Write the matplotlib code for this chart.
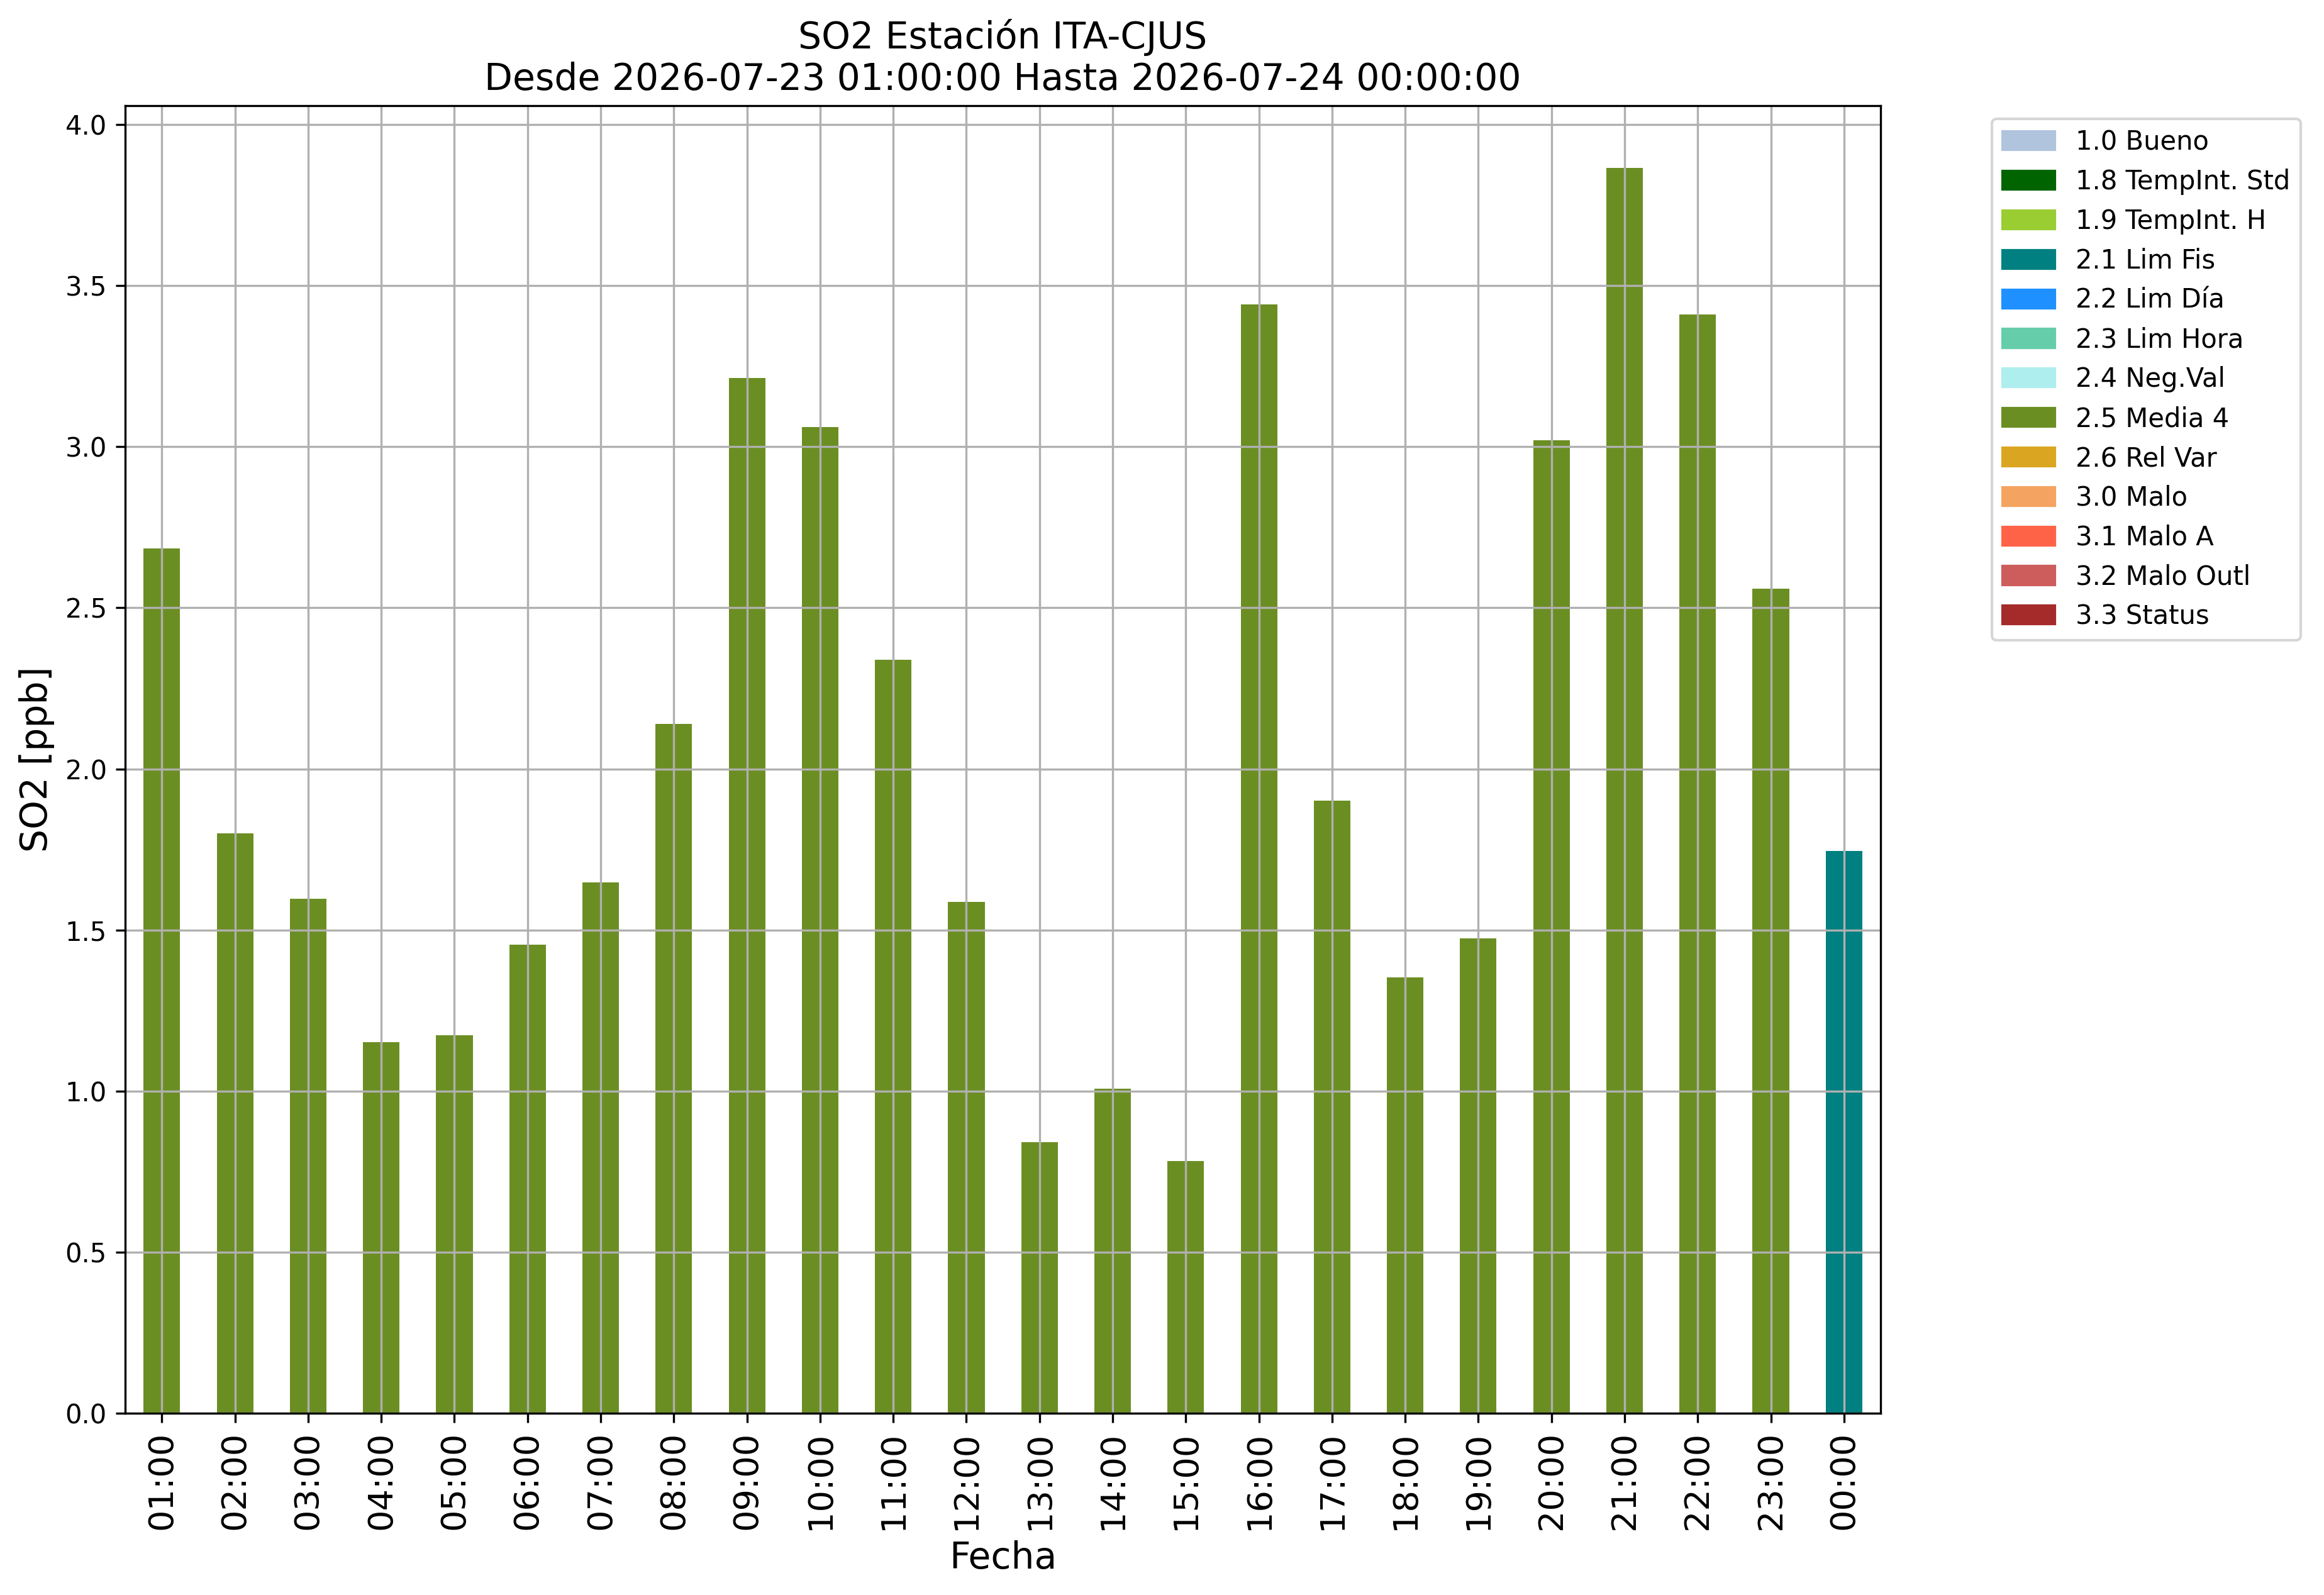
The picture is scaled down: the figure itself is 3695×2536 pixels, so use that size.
import matplotlib
matplotlib.use('Agg')
import matplotlib.pyplot as plt  # Plotting
import matplotlib.patches as mpatches  # Legend patches
import numpy as np  # Numerical ops

# Hours shown on x axis
hours = ['01:00', '02:00', '03:00', '04:00', '05:00', '06:00', '07:00', '08:00',
         '09:00', '10:00', '11:00', '12:00', '13:00', '14:00', '15:00', '16:00',
         '17:00', '18:00', '19:00', '20:00', '21:00', '22:00', '23:00', '00:00']

# SO2 values [ppb]
so2 = [2.684, 1.80, 1.597, 1.151, 1.174, 1.455, 1.648, 2.14,
       3.213, 3.061, 2.338, 1.588, 0.842, 1.008, 0.783, 3.443,
       1.901, 1.353, 1.473, 3.02, 3.866, 3.41, 2.559, 1.745]

# Quality flag of each hour
flags = ['2.5'] * 23 + ['2.1']

# Flag codes, names and colours for the legend
flag_codes = ['1.0', '1.8', '1.9', '2.1', '2.2', '2.3', '2.4', '2.5', '2.6', '3.0', '3.1', '3.2', '3.3']
flag_names = ['Bueno', 'TempInt. Std', 'TempInt. H', 'Lim Fis', 'Lim Día', 'Lim Hora', 'Neg.Val',
              'Media 4', 'Rel Var', 'Malo', 'Malo A', 'Malo Outl', 'Status']
flag_colors = ['lightsteelblue', 'darkgreen', 'yellowgreen', 'teal', 'dodgerblue', 'mediumaquamarine',
               'paleturquoise', 'olivedrab', 'goldenrod', 'sandybrown', 'tomato', 'indianred', 'brown']

color_map = dict(zip(flag_codes, flag_colors))

fig, ax = plt.subplots(figsize=(3695 / 300, 2536 / 300), dpi=300)
fig.subplots_adjust(left=0.0539, right=0.8092, top=0.9338, bottom=0.114)

x = np.arange(len(hours))
ax.bar(x, so2, width=0.5, color=[color_map[f] for f in flags])
ax.set_xlim(-0.5, len(hours) - 0.5)
ax.set_xticks(x)
ax.set_xticklabels(hours, rotation=90, fontsize=13)
ax.tick_params(axis='y', labelsize=10)
ax.grid(True)

ax.set_title('SO2 Estación ITA-CJUS\nDesde 2026-07-23 01:00:00 Hasta 2026-07-24 00:00:00', fontsize=14)
ax.set_xlabel('Fecha', fontsize=14)
ax.set_ylabel('SO2 [ppb]', fontsize=14)

handles = [mpatches.Patch(color=c, label=f'{code} {name}')
           for code, name, c in zip(flag_codes, flag_names, flag_colors)]
ax.legend(handles=handles, bbox_to_anchor=(1.056, 1), loc='upper left', fontsize=10)

fig.savefig('out.png', dpi=300)
